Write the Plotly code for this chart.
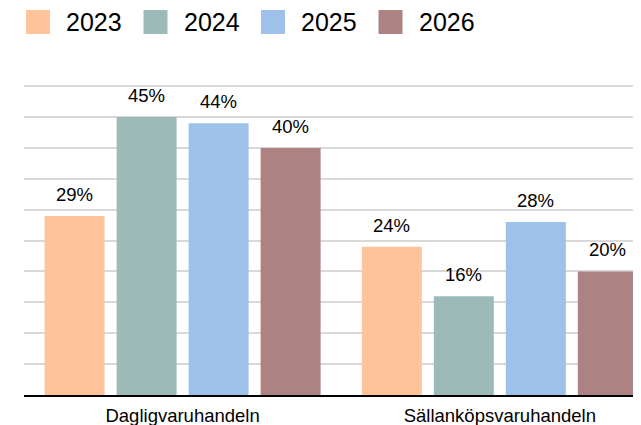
import plotly.graph_objects as go

categories = ["Dagligvaruhandeln", "Sällanköpsvaruhandeln"]
years = ["2023", "2024", "2025", "2026"]
values_2023 = [29, 24]
values_2024 = [45, 16]
values_2025 = [44, 28]
values_2026 = [40, 20]
series_values = [values_2023, values_2024, values_2025, values_2026]
colors = ["#ffc39b", "#9cbab8", "#9dc1e8", "#ad8282"]

# the page body adds an 8px offset; size the figure so it fills the window
OFF = 8
W, H = 641 - OFF, 425 - OFF
ML, MR, MT, MB = 24 - OFF, 0, 80 - OFF, 30
FONT = "Liberation Sans, Arial, sans-serif"
BARGAP = 0.092
BARGROUPGAP = 0.1667

def px_x(px):
    # window pixel -> paper x
    return (px - OFF - ML) / (W - ML - MR)

def px_y(py):
    # window pixel -> paper y
    return (H - MB - (py - OFF)) / (H - MT - MB)

fig = go.Figure()
xs = list(range(len(categories)))
for name, vals, col in zip(years, series_values, colors):
    fig.add_trace(go.Bar(x=xs, y=vals, name=name, marker=dict(color=col, line=dict(width=0)),
                         showlegend=False, hoverinfo="skip"))

annotations = []
slot = (1 - BARGAP) / len(years)
for i, vals in enumerate(series_values):
    for ci, v in enumerate(vals):
        annotations.append(dict(
            x=ci + (i - (len(years) - 1) / 2) * slot, y=v, xref="x", yref="y",
            text=f"{v}%", showarrow=False, yanchor="bottom", xanchor="center",
            yshift=9, font=dict(family=FONT, size=18.5, color="#000")))

shapes = []
for i, (name, col) in enumerate(zip(years, colors)):
    x0 = 26 + 117.5 * i
    shapes.append(dict(type="rect", xref="paper", yref="paper",
                       x0=px_x(x0), x1=px_x(x0 + 24), y0=px_y(34), y1=px_y(10),
                       fillcolor=col, line=dict(width=0)))
    annotations.append(dict(x=px_x(x0 + 38), y=px_y(22.5), xref="paper", yref="paper",
                            text=name, showarrow=False, xanchor="left", yanchor="middle",
                            font=dict(family=FONT, size=25, color="#000")))

fig.update_layout(
    width=W, height=H,
    margin=dict(l=ML, r=MR, t=MT, b=MB, pad=0),
    paper_bgcolor="white", plot_bgcolor="white",
    barmode="group", bargap=BARGAP, bargroupgap=BARGROUPGAP,
    font=dict(family=FONT, color="#000"),
    annotations=annotations, shapes=shapes,
    xaxis=dict(tickmode="array", tickvals=xs, ticktext=categories,
               range=[-0.5, 1.445], showline=True, linecolor="#000", linewidth=2,
               showgrid=False, zeroline=False, ticks="outside", ticklen=3,
               tickcolor="rgba(0,0,0,0)", automargin=False,
               tickfont=dict(family=FONT, size=18.5, color="#000")),
    yaxis=dict(range=[0, 51], dtick=5, tick0=0, showticklabels=False,
               showgrid=True, gridcolor="#d9d9d9", gridwidth=2, zeroline=False,
               showline=False, ticks=""),
)

fig.write_html("out.html")
